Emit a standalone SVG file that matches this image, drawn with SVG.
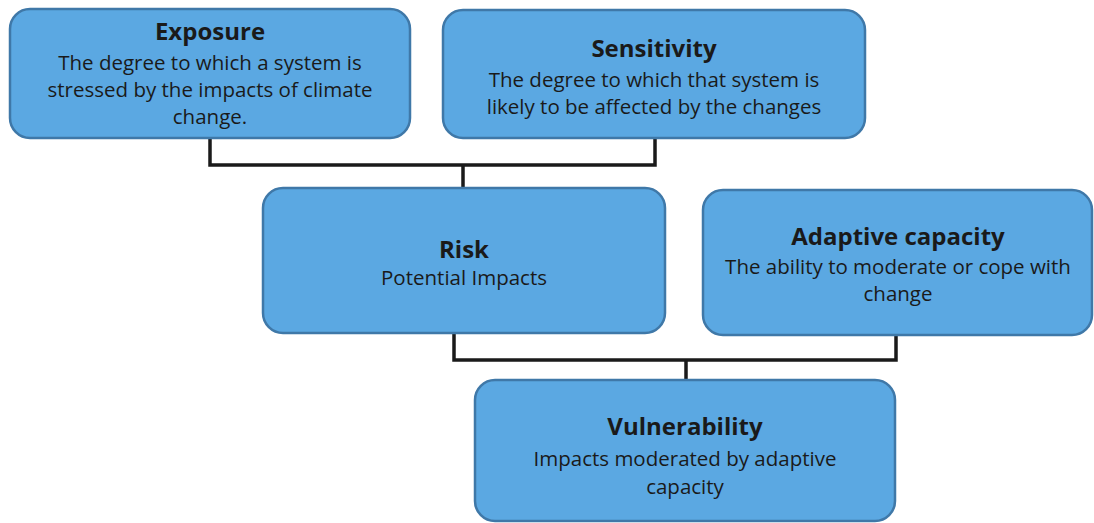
<svg xmlns="http://www.w3.org/2000/svg" width="1094" height="523" viewBox="0 0 1094 523">
<style>
.box{fill:#5ba8e2;stroke:#3f78a8;stroke-width:2.5}
.t{font-family:"Open Sans","Noto Sans",sans-serif;font-weight:700;font-size:24px;fill:#1a1a1a;text-anchor:middle}
.b{font-family:"Open Sans","Noto Sans",sans-serif;font-size:20.5px;fill:#1a1a1a;text-anchor:middle}
.c{fill:none;stroke:#1a1a1a;stroke-width:3.5}
</style>
<rect width="1094" height="523" fill="#ffffff"/>
<g id="connectors">
<polyline class="c" points="210,138 210,165 655,165 655,138"/>
<line class="c" x1="463" y1="165" x2="463" y2="188"/>
<polyline class="c" points="454,334 454,360 896,360 896,336"/>
<line class="c" x1="686" y1="360" x2="686" y2="380"/>
</g>
<g id="exposure">
<rect class="box" x="10" y="9" width="400" height="129" rx="20"/>
<text class="t" x="210" y="40">Exposure</text>
<text class="b" x="210" y="70">The degree to which a system is</text>
<text class="b" x="210" y="97">stressed by the impacts of climate</text>
<text class="b" x="210" y="124">change.</text>
</g>
<g id="sensitivity">
<rect class="box" x="443" y="10" width="422" height="128" rx="20"/>
<text class="t" x="654" y="57">Sensitivity</text>
<text class="b" x="654" y="87">The degree to which that system is</text>
<text class="b" x="654" y="114">likely to be affected by the changes</text>
</g>
<g id="risk">
<rect class="box" x="263" y="188" width="402" height="145" rx="20"/>
<text class="t" x="464" y="258">Risk</text>
<text class="b" x="464" y="285">Potential Impacts</text>
</g>
<g id="adaptive">
<rect class="box" x="703" y="190" width="389" height="145" rx="20"/>
<text class="t" x="898" y="245">Adaptive capacity</text>
<text class="b" x="898" y="274">The ability to moderate or cope with</text>
<text class="b" x="898" y="301">change</text>
</g>
<g id="vulnerability">
<rect class="box" x="475" y="380" width="420" height="141" rx="20"/>
<text class="t" x="685" y="435">Vulnerability</text>
<text class="b" x="685" y="466">Impacts moderated by adaptive</text>
<text class="b" x="685" y="494">capacity</text>
</g>
</svg>
